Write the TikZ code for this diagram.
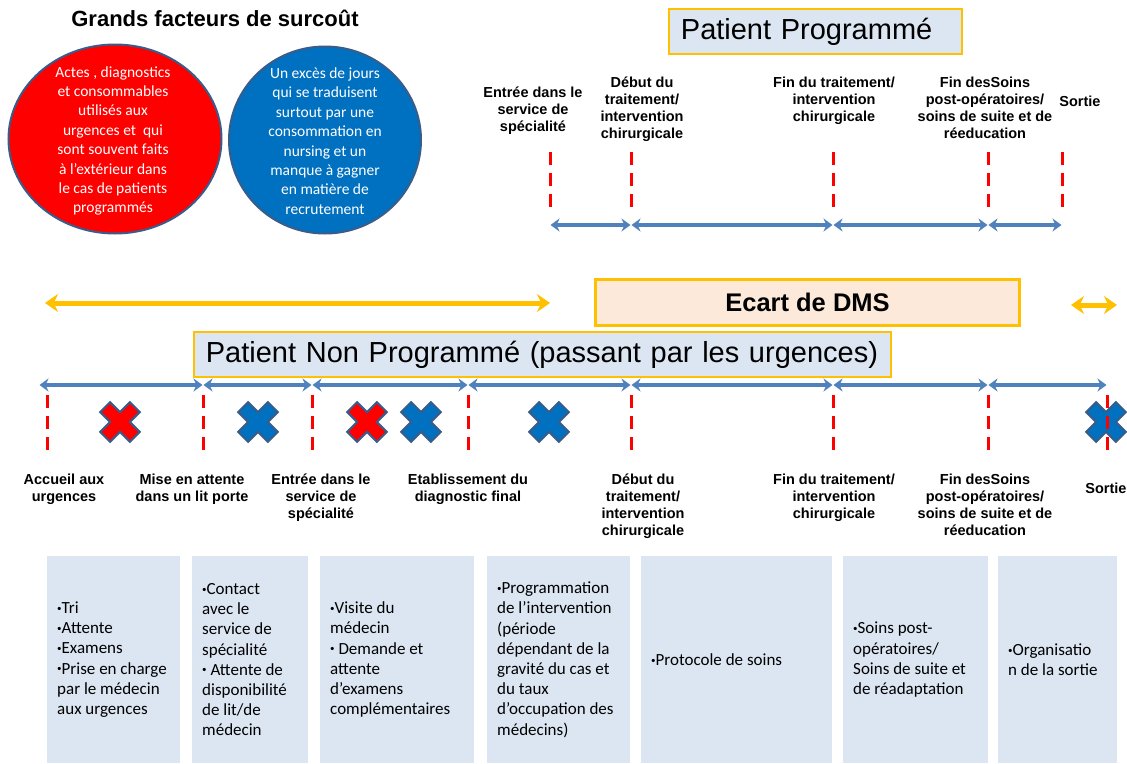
\documentclass[tikz,border=0pt]{standalone}
\usepackage{fontspec}
\setmainfont{Liberation Sans}
\newfontfamily\calib{Carlito}
\usetikzlibrary{shapes.geometric,arrows.meta}
\definecolor{ltblue}{HTML}{DCE6F2}
\definecolor{gold}{HTML}{FFC000}
\definecolor{peach}{HTML}{FDE9D9}
\definecolor{arrblue}{HTML}{4F81BD}
\definecolor{dkblue}{HTML}{0070C0}
\definecolor{edgeblue}{HTML}{385D8A}
\newcommand\bul{\raisebox{0.28ex}{\fontsize{9}{9}\selectfont•}}
\begin{document}
\begin{tikzpicture}[x=1pt,y=-1pt,
  lab/.style={font=\bfseries\fontsize{14.5}{17}\selectfont, align=center, inner sep=0pt, anchor=north},
  tick/.style={draw=red, line width=3pt, dash pattern=on 13pt off 8pt},
  seg/.style={draw=arrblue, line width=4pt, {Stealth[length=9pt,width=13pt]}-{Stealth[length=9pt,width=13pt]}, shorten <=0.5pt, shorten >=0.5pt},
  yarrow/.style={draw=gold, line width=5pt, {Stealth[length=13pt,width=18pt]}-{Stealth[length=13pt,width=18pt]}},
  titlebox/.style={draw=gold, line width=1.8pt, fill=ltblue, minimum height=45pt, inner xsep=12pt, align=left, font=\fontsize{29}{32}\selectfont},
  stepbox/.style={fill=ltblue, draw=none, minimum height=207pt, anchor=north west, inner sep=0pt},
  steptext/.style={anchor=west, inner sep=0pt, align=left, font=\calib\fontsize{17}{20.2}\selectfont},
  bubble/.style={ellipse, draw=edgeblue, line width=2pt},
  bubbletext/.style={align=center, text=white, font=\calib\fontsize{15.5}{19.4}\selectfont},
  xmark/.pic={\draw[line width=2pt, draw=edgeblue, fill=#1, rotate=45]
     (7,7)--(21,7)--(21,-7)--(7,-7)--(7,-21)--(-7,-21)--(-7,-7)--(-21,-7)--(-21,7)--(-7,7)--(-7,21)--(7,21)--cycle;}
]
\useasboundingbox (0,0) rectangle (1127,763);

% ---------- top-left: cost factors ----------
\node[font=\bfseries\fontsize{22}{24}\selectfont] (title) at (215,18) {Grands facteurs de surcoût};
\node[bubble, fill=red, minimum width=213pt, minimum height=189pt] (redc) at (115,139) {};
\node[bubbletext] (redt) at (113,141) {Actes , diagnostics\\et consommables\\utilisés aux\\urgences et~~qui\\sont souvent faits\\à l’extérieur dans\\le cas de patients\\programmés};
\node[bubble, fill=dkblue, minimum width=192pt, minimum height=187pt] (bluec) at (325,140) {};
\node[bubbletext] (bluet) at (325,141) {Un excès de jours\\qui se traduisent\\surtout par une\\consommation en\\nursing et un\\manque à gagner\\en matière de\\recrutement};

% ---------- Patient programmé ----------
\node[titlebox, minimum width=293pt, text width=269pt, anchor=north west] (pp) at (668,8) {Patient Programmé};

\node[lab] (lt1) at (533,87) {Entrée dans le\\service de\\spécialité};
\node[lab] (lt2) at (642,77) {Début du\\traitement/\\intervention\\chirurgicale};
\node[lab] (lt3) at (834,77) {Fin du traitement/\\intervention\\chirurgicale};
\node[lab] (lt4) at (985,77) {Fin desSoins\\post-opératoires/\\soins de suite et de\\réeducation};
\node[lab] (lt5) at (1080,96) {Sortie};

\foreach \i/\x in {1/550,2/631,3/833,4/988,5/1062} {
  \coordinate (tu\i) at (\x,152);
  \coordinate (td\i) at (\x,207);
  \coordinate (ta\i) at (\x,225);
}
\foreach \i in {1,...,5} \draw[tick] (tu\i) -- (td\i);
\foreach \i/\j in {1/2,2/3,3/4,4/5} \draw[seg] (ta\i) -- (ta\j);

% ---------- Ecart de DMS ----------
\coordinate (y1) at (45,303);
\coordinate (y2) at (550,303);
\draw[yarrow] (y1) -- (y2);
\coordinate (y3) at (1071,305);
\coordinate (y4) at (1117,305);
\draw[yarrow] (y3) -- (y4);
\node[draw=gold, line width=3pt, fill=peach, minimum width=424pt, minimum height=46pt, anchor=north west,
      font=\bfseries\fontsize{25.5}{28}\selectfont] (ecart) at (594,278) {Ecart de DMS};

% ---------- Patient non programmé ----------
\node[titlebox, minimum width=697pt, text width=673pt, anchor=north west] (pnp) at (193,331) {Patient Non Programmé (passant par les urgences)};

\coordinate (ba0) at (39,385);
\foreach \i/\x in {1/47,2/203,3/312,4/468,5/631,6/833,7/988,8/1107} {
  \coordinate (bu\i) at (\x,395);
  \coordinate (bd\i) at (\x,450);
  \coordinate (ba\i) at (\x,385);
}
\foreach \i/\j in {0/2,2/3,3/4,4/5,5/6,6/7,7/8} \draw[seg] (ba\i) -- (ba\j);

\pic at (120,422) {xmark=red};
\pic at (258,422) {xmark=dkblue};
\pic at (367,422) {xmark=red};
\pic at (421,422) {xmark=dkblue};
\pic at (549,422) {xmark=dkblue};
\pic at (1106,422) {xmark=dkblue};

\foreach \i in {1,...,8} \draw[tick] (bu\i) -- (bd\i);

\node[lab] (lb1) at (64,474) {Accueil aux\\urgences};
\node[lab] (lb2) at (192,474) {Mise en attente\\dans un lit porte};
\node[lab] (lb3) at (321,474) {Entrée dans le\\service de\\spécialité};
\node[lab] (lb4) at (468,474) {Etablissement du\\diagnostic final};
\node[lab] (lb5) at (643,474) {Début du\\traitement/\\intervention\\chirurgicale};
\node[lab] (lb6) at (834,474) {Fin du traitement/\\intervention\\chirurgicale};
\node[lab] (lb7) at (985,474) {Fin desSoins\\post-opératoires/\\soins de suite et de\\réeducation};
\node[lab] (lb8) at (1106,483) {Sortie};

% ---------- step boxes ----------
\foreach \i/\x/\w in {1/47/133,2/192/116,3/320/154,4/487/143,5/641/191,6/843/145,7/998/119}
  \node[stepbox, minimum width=\w pt] (s\i) at (\x,556) {};
\node[steptext] (st1) at ([xshift=10pt]s1.west) {\bul Tri\\\bul Attente\\\bul Examens\\\bul Prise en charge\\par le médecin\\aux urgences};
\node[steptext] (st2) at ([xshift=10pt]s2.west) {\bul Contact\\avec le\\service de\\spécialité\\\bul{} Attente de\\disponibilité\\de lit/de\\médecin};
\node[steptext] (st3) at ([xshift=10pt]s3.west) {\bul Visite du\\médecin\\\bul{} Demande et\\attente\\d’examens\\complémentaires};
\node[steptext] (st4) at ([xshift=10pt]s4.west) {\bul Programmation\\de l’intervention\\(période\\dépendant de la\\gravité du cas et\\du taux\\d’occupation des\\médecins)};
\node[steptext] (st5) at ([xshift=10pt]s5.west) {\bul Protocole de soins};
\node[steptext] (st6) at ([xshift=10pt]s6.west) {\bul Soins post-\\opératoires/\\Soins de suite et\\de réadaptation};
\node[steptext] (st7) at ([xshift=10pt]s7.west) {\bul Organisatio\\n de la sortie};
\end{tikzpicture}
\end{document}
